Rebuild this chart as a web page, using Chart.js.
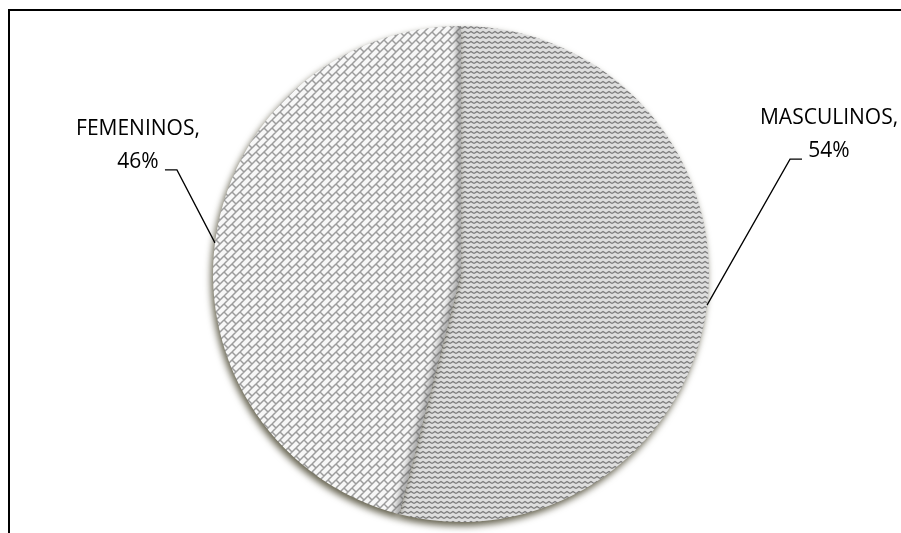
<!DOCTYPE html>
<html>
<head>
<meta charset="utf-8">
<script src="https://cdn.jsdelivr.net/npm/chart.js@4/dist/chart.umd.min.js"></script>
<style>
  html, body { margin: 0; padding: 0; background: #fff; }
  #myChart { display: block; }
</style>
</head>
<body>
<canvas id="myChart" width="901" height="533"></canvas>
<script>
var categories = ['MASCULINOS', 'FEMENINOS'];
var percentages = [54, 46];

// zigzag fill for masculinos
function zigzagPattern() {
    var c = document.createElement('canvas');
    c.width = 6; c.height = 5;
    var g = c.getContext('2d');
    g.fillStyle = '#dedede';
    g.fillRect(0, 0, 6, 5);
    g.strokeStyle = '#7c7c7c';
    g.lineWidth = 1.4;
    g.beginPath();
    g.moveTo(0, 3.5); g.lineTo(3, 1.5); g.lineTo(6, 3.5);
    g.stroke();
    return g.createPattern(c, 'repeat');
}

// diagonal brick fill for femeninos
function brickPattern() {
    var c = document.createElement('canvas');
    c.width = 16; c.height = 16;
    var g = c.getContext('2d');
    g.fillStyle = '#f7f7f7';
    g.fillRect(0, 0, 16, 16);
    g.strokeStyle = '#9c9c9c';
    g.lineWidth = 1.5;
    for (var ox = -16; ox <= 16; ox += 16) {
        for (var oy = -16; oy <= 16; oy += 16) {
            g.beginPath();
            g.moveTo(ox + 0, oy + 8); g.lineTo(ox + 8, oy + 0);
            g.moveTo(ox + 0, oy + 16); g.lineTo(ox + 16, oy + 0);
            g.moveTo(ox + 8, oy + 16); g.lineTo(ox + 16, oy + 8);
            g.moveTo(ox + 0, oy + 0); g.lineTo(ox + 4, oy + 4);
            g.moveTo(ox + 8, oy + 8); g.lineTo(ox + 12, oy + 12);
            g.moveTo(ox + 8, oy + 0); g.lineTo(ox + 12, oy + 4);
            g.moveTo(ox + 0, oy + 8); g.lineTo(ox + 4, oy + 12);
            g.stroke();
        }
    }
    return g.createPattern(c, 'repeat');
}

var frame = {
    id: 'frame',
    beforeDraw: function (chart) {
        var ctx = chart.ctx;
        ctx.save();
        ctx.fillStyle = '#fff';
        ctx.fillRect(0, 0, chart.width, chart.height);
        ctx.strokeStyle = '#000';
        ctx.lineWidth = 2;
        ctx.beginPath();
        ctx.moveTo(chart.width, 10);
        ctx.lineTo(9, 10);
        ctx.lineTo(9, chart.height);
        ctx.stroke();
        ctx.restore();
    }
};

var pieShadow = {
    id: 'pieShadow',
    beforeDatasetsDraw: function (chart) {
        var ctx = chart.ctx;
        ctx.save();
        ctx.shadowColor = 'rgba(50, 45, 20, 0.75)';
        ctx.shadowBlur = 7;
        ctx.shadowOffsetX = -2;
        ctx.shadowOffsetY = 4;
    },
    afterDatasetsDraw: function (chart) {
        var ctx = chart.ctx;
        ctx.restore();
        // soft shade on the femeninos side of the split
        var arc = chart.getDatasetMeta(0).data[1];
        var p = arc.getProps(['x', 'y', 'startAngle', 'endAngle', 'outerRadius'], true);
        ctx.save();
        ctx.beginPath();
        ctx.moveTo(p.x, p.y);
        ctx.arc(p.x, p.y, p.outerRadius, p.startAngle, p.endAngle);
        ctx.closePath();
        ctx.clip();
        ctx.filter = 'blur(3px)';
        ctx.strokeStyle = 'rgba(90, 90, 90, 0.55)';
        ctx.lineWidth = 9;
        ctx.beginPath();
        ctx.moveTo(p.x + Math.cos(p.startAngle) * (p.outerRadius + 10), p.y + Math.sin(p.startAngle) * (p.outerRadius + 10));
        ctx.lineTo(p.x, p.y);
        ctx.lineTo(p.x + Math.cos(p.endAngle) * (p.outerRadius + 10), p.y + Math.sin(p.endAngle) * (p.outerRadius + 10));
        ctx.stroke();
        ctx.restore();
    }
};

// label offsets from the slice edge
var labelLayout = [
    { elbow: [83, -146], tail: 12, text: 27 },
    { elbow: [-38, -73], tail: -12, text: -27 }
];

var calloutLabels = {
    id: 'calloutLabels',
    afterDraw: function (chart) {
        var ctx = chart.ctx;
        var arcs = chart.getDatasetMeta(0).data;
        ctx.save();
        ctx.font = '21px "Open Sans"';
        ctx.fillStyle = '#000';
        ctx.strokeStyle = '#000';
        ctx.lineWidth = 1.3;
        ctx.textAlign = 'center';
        ctx.textBaseline = 'middle';
        arcs.forEach(function (arc, i) {
            var p = arc.getProps(['x', 'y', 'startAngle', 'endAngle', 'outerRadius'], true);
            var mid = (p.startAngle + p.endAngle) / 2;
            var sx = p.x + Math.cos(mid) * p.outerRadius;
            var sy = p.y + Math.sin(mid) * p.outerRadius;
            var L = labelLayout[i];
            var ex = sx + L.elbow[0], ey = sy + L.elbow[1];
            var tx = ex + L.tail;
            ctx.beginPath();
            ctx.moveTo(sx, sy);
            ctx.lineTo(ex, ey);
            ctx.lineTo(tx, ey);
            ctx.stroke();
            var cx = tx + L.text;
            ctx.fillText(categories[i] + ',', cx, ey - 41);
            ctx.fillText(percentages[i] + '%', cx, ey - 8);
        });
        ctx.restore();
    }
};

var ctx = document.getElementById('myChart').getContext('2d');

var myChart = new Chart(ctx, {
    type: 'pie',
    data: {
        labels: categories,
        datasets: [{
            data: percentages,
            backgroundColor: [zigzagPattern(), brickPattern()],
            borderWidth: 0
        }]
    },
    options: {
        responsive: false,
        animation: false,
        devicePixelRatio: 1,
        layout: { padding: { top: 26, bottom: 11, left: 60, right: 39 } },
        plugins: {
            legend: { display: false },
            tooltip: { enabled: false }
        }
    },
    plugins: [frame, pieShadow, calloutLabels]
});
</script>
</body>
</html>
